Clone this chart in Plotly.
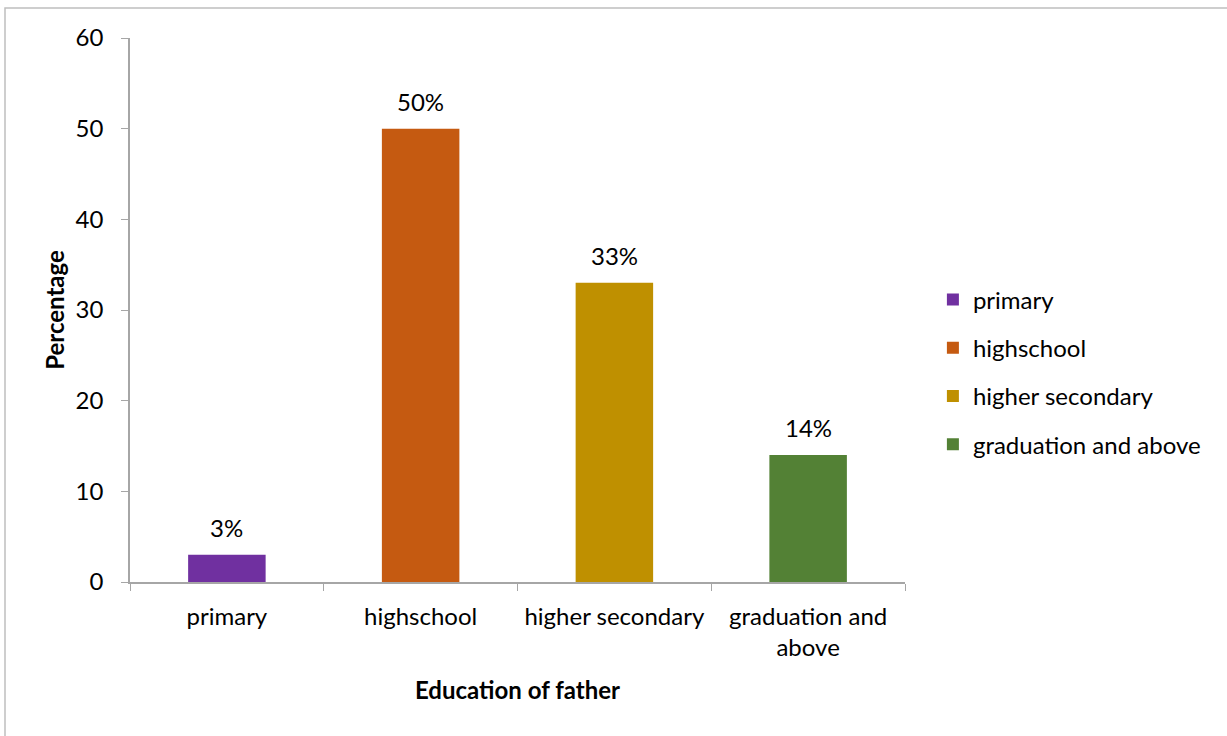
import plotly.graph_objects as go

categories = ["primary", "highschool", "higher secondary", "graduation and above"]
tick_labels = ["primary", "highschool", "higher secondary", "graduation and<br>above"]
values = [3, 50, 33, 14]
value_labels = ["3%", "50%", "33%", "14%"]
colors = ["#7030A0", "#C55A11", "#BF9000", "#538135"]

FONT = "Lato, 'Open Sans', sans-serif"
FS = 24

fig = go.Figure()
for i, cat in enumerate(categories):
    fig.add_trace(go.Bar(
        x=[tick_labels[i]], y=[values[i]], name=cat,
        marker=dict(color=colors[i], line=dict(width=0)),
        width=0.4, legendgroup=cat, hoverinfo="x+y",
    ))

annotations = [
    dict(x=tick_labels[i], y=values[i], xref="x", yref="y", text=value_labels[i],
         showarrow=False, yanchor="bottom", yshift=11,
         font=dict(size=FS, family=FONT, color="#000000"))
    for i in range(len(categories))
]

fig.update_layout(
    width=1227, height=736,
    margin=dict(l=130, r=322, t=38, b=154),
    paper_bgcolor="white", plot_bgcolor="white",
    barmode="overlay",
    font=dict(family=FONT, size=FS, color="#000000"),
    legend=dict(x=1.036, xanchor="left", y=0.386, yanchor="middle",
                font=dict(size=FS, family=FONT), tracegroupgap=14,
                itemclick=False),
    annotations=annotations,
    xaxis=dict(
        type="category", categoryorder="array", categoryarray=tick_labels,
        tickson="boundaries", ticks="outside", ticklen=7, tickcolor="#a6a6a6",
        showline=True, linecolor="#a6a6a6", linewidth=1.5,
        showgrid=False, tickfont=dict(size=FS, family=FONT), ticklabelstandoff=12,
        title=dict(text="<b>Education of father</b>", font=dict(size=FS, family=FONT), standoff=22),
    ),
    yaxis=dict(
        range=[0, 60], dtick=10, ticks="outside", ticklen=7, tickcolor="#a6a6a6",
        showline=True, linecolor="#a6a6a6", linewidth=1.5,
        showgrid=False, zeroline=False, tickfont=dict(size=FS, family=FONT),
        ticklabelstandoff=13,
        title=dict(text="<b>Percentage</b>", font=dict(size=FS, family=FONT), standoff=4),
    ),
    shapes=[dict(type="rect", xref="paper", yref="paper",
                 x0=(5 - 130) / 775, x1=2.0, y0=-1.0, y1=(582 - 8) / 544,
                 line=dict(color="#bfbfbf", width=1.5), fillcolor="rgba(0,0,0,0)", layer="below")],
)

fig.write_html("out.html")
